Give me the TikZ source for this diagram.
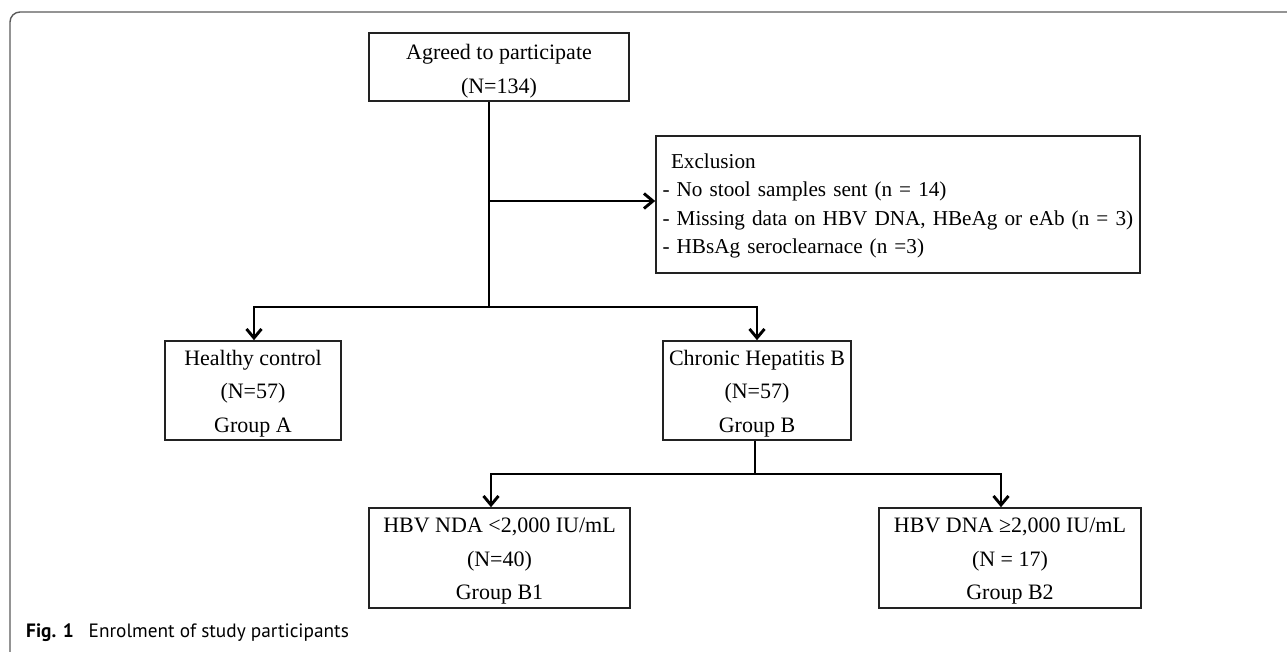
\documentclass[tikz,border=0pt]{standalone}
\usepackage{fontspec}
\setmainfont{Liberation Serif}
\newfontfamily\capfont{PT Sans}
\usetikzlibrary{arrows.meta,calc}
\definecolor{framecol}{HTML}{5A5A5A}
\definecolor{boxcol}{HTML}{222222}
\begin{document}
\begin{tikzpicture}[x=1pt,y=-1pt,
  box/.style={draw=boxcol,line width=1.6pt,inner sep=0pt,align=center,
    font=\fontsize{22}{33.5}\selectfont},
  three/.style={box,text height=83pt,text depth=0pt},
  conn/.style={line width=2.9pt,black},
  arr/.style={conn,-{Straight Barb[length=9pt,width=15pt]}}]
\useasboundingbox (0,0) rectangle (1287,651);
% outer frame
\draw[framecol,line width=1.4pt,rounded corners=10pt] (10,652) -- (10,12) -- (1288,12);
% boxes
\node[box,minimum width=260pt,minimum height=68pt,text height=52pt,text depth=0pt] (agreed) at (499,67)
  {Agreed to participate\\(N=134)};
\node[box,minimum width=484pt,minimum height=137pt,text width=478pt,inner xsep=3pt,align=left,
  text height=15pt,text depth=88pt,
  font=\fontsize{21.2}{28.5}\selectfont] (excl) at (898,204.5)
  {\hspace*{12pt}Exclusion\\\mbox{\,- No stool samples sent (n = 14)}\\\mbox{\,- Missing data on HBV DNA, HBeAg or eAb (n = 3)}\\\mbox{\,- HBsAg seroclearnace (n =3)}};
\node[three,minimum width=176pt,minimum height=99pt] (healthy) at (253,390.5)
  {Healthy control\\(N=57)\\Group A};
\node[three,minimum width=188pt,minimum height=99pt] (chronic) at (757,390.5)
  {Chronic Hepatitis B\\(N=57)\\Group B};
\node[three,minimum width=261pt,minimum height=100pt] (b1) at (499.5,558)
  {HBV NDA <2,000 IU/mL\\(N=40)\\Group B1};
\node[three,minimum width=262pt,minimum height=100pt] (b2) at (1010,558)
  {HBV DNA ≥2,000 IU/mL\\(N = 17)\\Group B2};
% junctions
\coordinate (j1) at (489,307);
\coordinate (j2) at (755,474);
% connectors
\draw[conn] ([xshift=-10pt]agreed.south) -- (j1);
\draw[arr] (j1 |- 0,201) -- ([yshift=3.5pt]excl.west);
\draw[arr] (j1) -| ([xshift=1pt]healthy.north);
\draw[arr] (j1) -| (chronic.north);
\draw[conn] ([xshift=-2pt]chronic.south) -- (j2);
\draw[arr] (j2) -| ([xshift=-8.5pt]b1.north);
\draw[arr] (j2) -| ([xshift=-9pt]b2.north);
% caption
\node[anchor=base west,inner sep=0pt,font=\capfont\fontsize{19.3}{23}\selectfont,text=black] (cap) at (26,637)
  {\textbf{Fig. 1}\hspace{15pt}Enrolment of study participants};
\end{tikzpicture}
\end{document}
